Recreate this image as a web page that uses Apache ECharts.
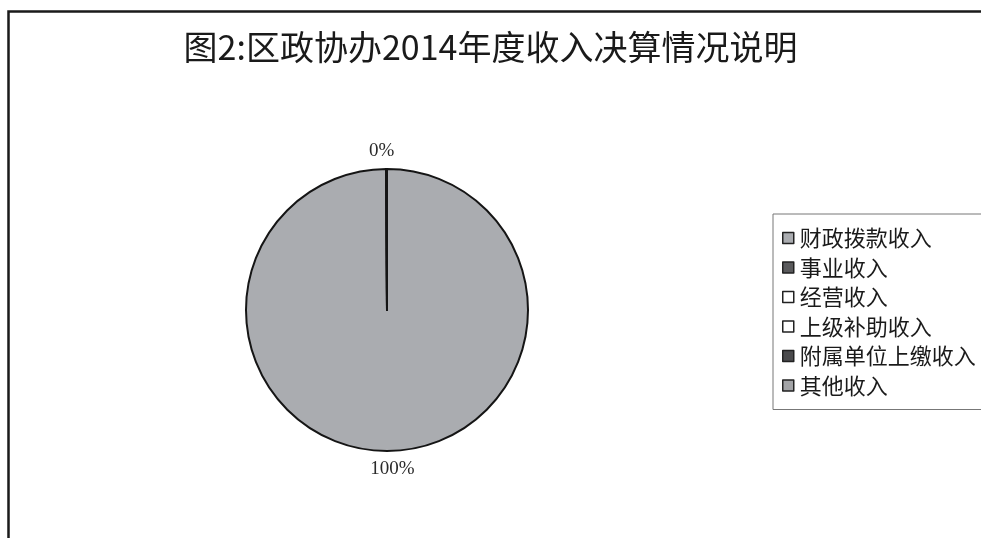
<!DOCTYPE html>
<html>
<head>
<meta charset="utf-8">
<script src="https://cdn.jsdelivr.net/npm/echarts@6/dist/echarts.min.js"></script>
<style>html,body{margin:0;padding:0;background:#fff;}#c{width:981px;height:538px;}</style>
</head>
<body>
<div id="c"></div>
<script>
const titleText = '图2:区政协办2014年度收入决算情况说明';
const categories = ['财政拨款收入', '事业收入', '经营收入', '上级补助收入', '附属单位上缴收入', '其他收入'];
const values = [1000, 0, 0, 0, 0, 0.6];
const colors = ['#aaacb0', '#5a5a5c', '#ffffff', '#ffffff', '#4a4a4c', '#a2a3a6'];

const chart = echarts.init(document.getElementById('c'));
const data = categories.map((name, i) => ({
  name: name,
  value: values[i],
  itemStyle: { color: colors[i] },
  label: { show: values[i] > 0 }
}));

chart.setOption({
  backgroundColor: '#ffffff',
  animation: false,
  graphic: [{
    type: 'rect',
    shape: { x: 8.5, y: 11.5, width: 1200, height: 800 },
    style: { fill: 'none', stroke: '#1a1a1a', lineWidth: 2.5 },
    z: -1
  }],
  title: {
    text: titleText,
    left: 'center',
    top: 25,
    textStyle: { fontFamily: 'Noto Sans CJK SC', fontSize: 34, fontWeight: 'normal', color: '#1a1a1a' }
  },
  legend: {
    orient: 'vertical',
    left: 773,
    top: 214,
    padding: [13, 60, 13, 9],
    itemGap: 7.5,
    itemWidth: 11,
    itemHeight: 11,
    borderColor: '#777',
    borderWidth: 1,
    icon: 'rect',
    itemStyle: { borderColor: '#222', borderWidth: 1.5 },
    textStyle: { fontFamily: 'Noto Sans CJK SC', fontSize: 22, lineHeight: 22, color: '#1a1a1a', padding: [0, 0, 0, 1] },
    data: categories
  },
  series: [{
    type: 'pie',
    center: [387, 310],
    radius: 141,
    startAngle: 90,
    clockwise: true,
    stillShowZeroSum: true,
    itemStyle: { borderColor: '#151515', borderWidth: 2 },
    label: {
      position: 'outside',
      fontFamily: 'Liberation Serif',
      fontSize: 19,
      color: '#2a2a2a',
      formatter: p => Math.round(p.percent) + '%'
    },
    labelLine: { show: false, length: 18, length2: 0 },
    labelLayout: function () { return { align: 'center', verticalAlign: 'middle' }; },
    emphasis: { disabled: true },
    data: data
  }]
});
</script>
</body>
</html>
